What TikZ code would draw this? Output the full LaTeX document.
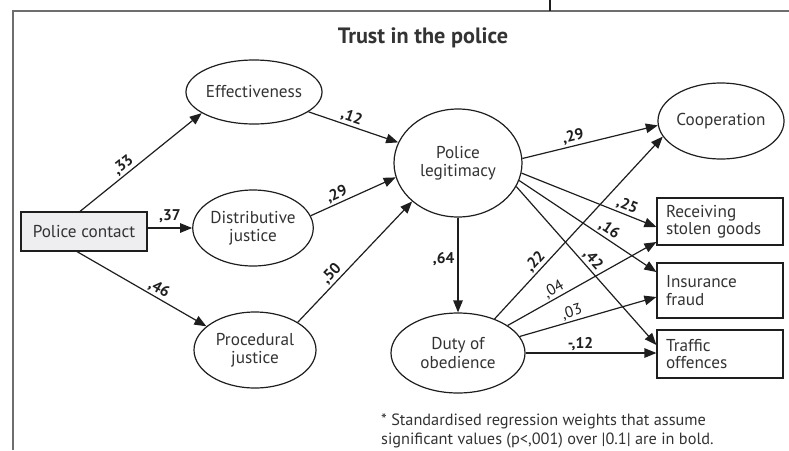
\documentclass[tikz,border=0pt]{standalone}
\usepackage{fontspec}
\setmainfont{PT Sans}
\usetikzlibrary{shapes.geometric,arrows.meta,calc}
\definecolor{ink}{HTML}{1E1E1E}
\definecolor{txt}{HTML}{333333}
\definecolor{framegray}{HTML}{6E6E6E}
\definecolor{boxfill}{HTML}{EEEEF0}
\begin{document}
\begin{tikzpicture}[x=1pt,y=-1pt,
  ell/.style={ellipse,draw=ink,line width=1.2pt,inner sep=0pt,align=center,
    font=\fontsize{17.2}{18.5}\selectfont,text=txt},
  rbox/.style={rectangle,draw=ink,line width=1.2pt,inner ysep=0pt,inner xsep=9pt,
    text width=108pt,minimum width=126pt,align=left,
    font=\fontsize{17.2}{16.5}\selectfont,text=txt},
  conn/.style={draw=ink,line width=1.2pt,-{Triangle[length=12pt,width=9.5pt]}},
  lab/.style={font=\fontsize{15.5}{15.5}\selectfont\bfseries,sloped,above,inner sep=1.5pt,text=ink},
  labn/.style={lab,font=\fontsize{15.5}{15.5}\selectfont}]
\useasboundingbox (0,0) rectangle (789,450);
\draw[framegray,line width=2pt] (13,450) -- (13,11) -- (789,11);
\draw[ink,line width=1.2pt] (550,0) -- (550,11);

\node[font=\fontsize{22.2}{22}\selectfont\bfseries,text=txt] (title) at (423,38) {Trust in the police};

\node[rectangle,draw=ink,line width=1.2pt,fill=boxfill,minimum width=126pt,minimum height=39pt,
  inner sep=0pt,font=\fontsize{17.2}{18}\selectfont,text=txt] (pc) at (84,231.5) {Police contact};
\node[ell,minimum width=122pt,minimum height=64pt] (eff) at (254,92) {Effectiveness};
\node[ell,minimum width=120pt,minimum height=76pt] (dist) at (253,228) {Distributive\\justice};
\node[ell,minimum width=122pt,minimum height=76pt] (proc) at (255,350) {Procedural\\justice};
\node[ell,minimum width=128pt,minimum height=108pt] (pl) at (458,163) {Police\\legitimacy};
\node[ell,minimum width=122pt,minimum height=76pt] (coop) at (721,121) {Cooperation};
\node[ell,minimum width=134pt,minimum height=80pt] (duty) at (458,353) {Duty of\\obedience};

\node[rbox,minimum height=47pt,font=\fontsize{17.2}{15.5}\selectfont] (recv) at (720,221.5) {Receiving\\stolen goods};
\node[rbox,minimum height=55pt,font=\fontsize{17.2}{18}\selectfont] (ins) at (720,290.5) {Insurance\\fraud};
\node[rbox,minimum height=48pt] (traf) at (720,354) {Traffic\\offences};

\draw[conn] ([xshift=-4pt]pc.north) -- (eff.202) node[lab,pos=.4]{,33};
\draw[conn] (dist.west -| pc.east) -- (dist.west) node[lab,pos=.5,above=3pt]{,37};
\draw[conn] ([xshift=-7pt]pc.south) -- (proc.154) node[lab,pos=.6]{,46};
\draw[conn] (eff.340) -- (pl.161) node[lab,pos=.45]{,12};
\draw[conn] (dist.12) -- (pl.193) node[lab,pos=.35]{,29};
\draw[conn] (proc.33) -- (pl.220) node[lab,pos=.35]{,50};
\draw[conn] (pl.4) -- (coop.184) node[lab,pos=.39]{,29};
\draw[conn] (pl.351) -- ([yshift=-5.5pt]recv.west) node[lab,pos=.76]{,25};
\draw[conn] (pl.344) -- ([yshift=18.5pt]ins.west) node[lab,pos=.62]{,16};
\draw[conn] (pl.338) -- ([yshift=9pt]traf.west) node[lab,pos=.5]{,42};
\draw[conn] (pl.south) -- (duty.north) node[font=\fontsize{15.5}{15.5}\selectfont\bfseries,text=ink,left,inner sep=3pt,pos=.44]{,64};
\draw[conn] (duty.43) -- (coop.195) node[lab,pos=.28]{,22};
\draw[conn] (duty.29) -- ([yshift=-20.5pt]recv.west) node[labn,pos=.34]{,04};
\draw[conn] (duty.15) -- ([yshift=-6.5pt]ins.west) node[labn,pos=.4]{,03};
\draw[conn] (duty.east) -- (duty.east -| traf.west) node[lab,pos=.42]{-,12};

\node[anchor=north west,align=left,inner sep=0pt,font=\fontsize{16.3}{18.5}\selectfont,text=txt] (note) at (381,414)
  {* Standardised regression weights that assume\\significant values (p<,001) over |0.1| are in bold.};
\end{tikzpicture}
\end{document}
